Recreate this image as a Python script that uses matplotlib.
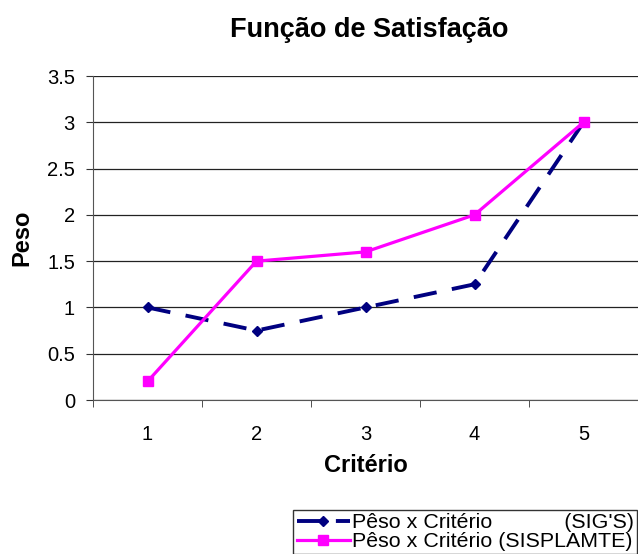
import matplotlib
matplotlib.use("Agg")
import matplotlib.pyplot as plt
import numpy as np

# data
criterios = [1, 2, 3, 4, 5]
peso_sigs = [1, 0.75, 1, 1.25, 3]
peso_sisplamte = [0.2, 1.5, 1.6, 2, 3]
label_sigs = "Pêso x Critério            (SIG'S)"
label_sisplamte = "Pêso x Critério (SISPLAMTE)"

plt.rcParams['font.family'] = ['Liberation Sans', 'DejaVu Sans']

fig = plt.figure(figsize=(6.38, 5.54), dpi=100)
ax = fig.add_axes([93 / 638, 1 - 400 / 554, 1 - 93 / 638, 324 / 554])

ax.plot(criterios, peso_sigs, color="#000080", lw=2.8, ls=(0, (6, 4)),
        marker="D", ms=5, label=label_sigs, zorder=3)
ax.plot(criterios, peso_sisplamte, color="#FF00FF", lw=2.3,
        marker="s", ms=7, label=label_sisplamte, zorder=4)

ax.set_xlim(0.5, 5.5)
ax.set_ylim(0, 3.5)
ax.set_yticks(np.arange(0, 3.51, 0.5))
ax.set_yticklabels(["0", "0.5", "1", "1.5", "2", "2.5", "3", "3.5"])
ax.set_xticks(criterios)
ax.set_xticks(np.arange(0.5, 5.6, 1), minor=True)
ax.tick_params(axis="x", which="major", length=0, pad=18, labelsize=14.5)
ax.tick_params(axis="x", which="minor", length=5, color="#333333")
ax.tick_params(axis="y", length=5, pad=8, labelsize=14.5, color="#333333")
ax.yaxis.grid(True, color="#222222", lw=0.9)
ax.set_axisbelow(True)
for s in ["top", "right"]:
    ax.spines[s].set_visible(False)
ax.spines["left"].set_color("#555555")
ax.spines["bottom"].set_color("#555555")

ax.set_xlabel("Critério", fontsize=17, fontweight="bold", labelpad=7)
ax.set_ylabel("Peso", fontsize=17, fontweight="bold", labelpad=10)
fig.text(369 / 638, 1 - 30 / 554, "Função de Satisfação", ha="center", va="center",
         fontsize=19.5, fontweight="bold")

leg = fig.legend(loc="upper right", bbox_to_anchor=(0.999, 1 - 510 / 554),
                 fontsize=15.4, frameon=True, fancybox=False, handlelength=2.5,
                 borderpad=0.15, labelspacing=0.0, handletextpad=0.1,
                 borderaxespad=0)
leg.get_frame().set_edgecolor("black")
leg.get_frame().set_linewidth(1)

fig.savefig("out.png", dpi=100)
